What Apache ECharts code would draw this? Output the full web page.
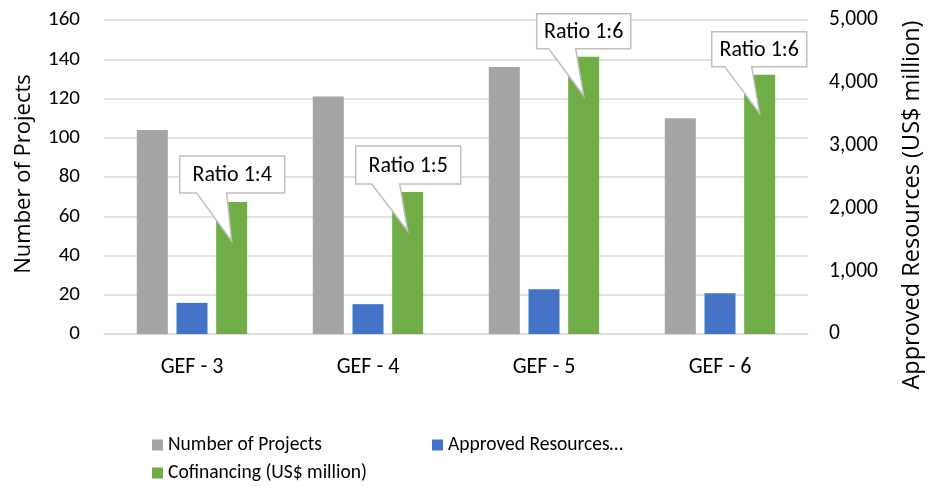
<!DOCTYPE html>
<html>
<head>
<meta charset="utf-8">
<script src="https://cdn.jsdelivr.net/npm/echarts@6/dist/echarts.min.js"></script>
<style>
html,body{margin:0;padding:0;background:#fff;}
#chart{width:932px;height:486px;}
</style>
</head>
<body>
<div id="chart"></div>
<script>
const categories = ['GEF - 3', 'GEF - 4', 'GEF - 5', 'GEF - 6'];
const numberOfProjects = [104, 121, 136, 110];
const approvedResources = [495, 475, 712, 650];
const cofinancing = [2100, 2260, 4415, 4130];
const ratioLabels = ['Ratio 1:4', 'Ratio 1:5', 'Ratio 1:6', 'Ratio 1:6'];
const leftTicks = { min: 0, max: 160, interval: 20 };
const rightTicks = { min: 0, max: 5000, interval: 1000 };

const FONT = 'Carlito, Lato, sans-serif';
const TITLE_FONT = '"Open Sans", Lato, sans-serif';
// callout geometry relative to green bar center / top (pixels)
const calloutGeom = [
  { L: -52, R: 53, T: -46, B: -9, tl: -35, tr: -5, tip: 39 },
  { L: -52, R: 53, T: -46, B: -8, tl: -36, tr: -8, tip: 39 },
  { L: -47, R: 47, T: -43, B: -8, tl: -35, tr: -8, tip: 39 },
  { L: -48, R: 47, T: -43, B: -8, tl: -35, tr: -8, tip: 39 }
];
const BAR_W = 31, BAR_GAP = '28%';
const greenOffset = BAR_W * 1.28;

const calloutData = cofinancing.map((v, i) => [i, v, ratioLabels[i]]);

const chart = echarts.init(document.getElementById('chart'));
const legendText = { fontFamily: FONT, fontSize: 19.5, color: '#000' };
chart.setOption({
  animation: false,
  textStyle: { fontFamily: FONT },
  grid: { left: 104, right: 117, top: 20, bottom: 152 },
  legend: [
    { data: ['Number of Projects'], left: 147, top: 430, itemWidth: 11, itemHeight: 11, itemGap: 0, textStyle: legendText, icon: 'rect' },
    { data: ['Approved Resources (US$ million)'], left: 427, top: 430, itemWidth: 11, itemHeight: 11, textStyle: legendText, icon: 'rect',
      formatter: () => 'Approved Resources…' },
    { data: ['Cofinancing (US$ million)'], left: 147, top: 458, itemWidth: 11, itemHeight: 11, textStyle: legendText, icon: 'rect' }
  ],
  xAxis: {
    type: 'category',
    data: categories,
    axisLine: { lineStyle: { color: '#d9d9d9', width: 1.5 } },
    axisTick: { show: false },
    axisLabel: { color: '#000', fontSize: 22, fontFamily: FONT, margin: 22 }
  },
  yAxis: [
    {
      type: 'value', min: leftTicks.min, max: leftTicks.max, interval: leftTicks.interval,
      name: 'Number of Projects', nameLocation: 'middle', nameGap: 69, nameRotate: 90,
      nameTextStyle: { fontSize: 22, color: '#000', fontFamily: TITLE_FONT, padding: [0, 0, 0, 6] },
      axisLine: { show: false }, axisTick: { show: false },
      axisLabel: { color: '#000', fontSize: 21, fontFamily: FONT, margin: 24 },
      splitLine: { lineStyle: { color: '#d9d9d9', width: 1.5 } }
    },
    {
      type: 'value', min: rightTicks.min, max: rightTicks.max, interval: rightTicks.interval,
      name: 'Approved Resources (US$ million)', nameLocation: 'middle', nameGap: 92, nameRotate: 90,
      nameTextStyle: { fontSize: 23.5, color: '#000', fontFamily: TITLE_FONT, padding: [0, 56, 0, 0] },
      axisLine: { show: false }, axisTick: { show: false },
      axisLabel: { color: '#000', fontSize: 21.5, fontFamily: FONT, margin: 21,
        formatter: v => v.toLocaleString('en-US') },
      splitLine: { show: false }
    }
  ],
  series: [
    { name: 'Number of Projects', type: 'bar', yAxisIndex: 0, data: numberOfProjects,
      barWidth: BAR_W, barGap: BAR_GAP, itemStyle: { color: '#a5a5a5' } },
    { name: 'Approved Resources (US$ million)', type: 'bar', yAxisIndex: 1, data: approvedResources,
      barWidth: BAR_W, barGap: BAR_GAP, itemStyle: { color: '#4472c4' } },
    { name: 'Cofinancing (US$ million)', type: 'bar', yAxisIndex: 1, data: cofinancing,
      barWidth: BAR_W, barGap: BAR_GAP, itemStyle: { color: '#70ad47' } },
    {
      name: 'callouts', type: 'custom', yAxisIndex: 1, z: 10, clip: false, silent: true,
      data: calloutData,
      encode: { x: 0, y: 1 },
      renderItem: function (params, api) {
        const i = params.dataIndex;
        const p = api.coord([api.value(0), api.value(1)]);
        const cx = p[0] + greenOffset, ty = p[1];
        const g = calloutGeom[i];
        const L = cx + g.L, R = cx + g.R, T = ty + g.T, B = ty + g.B;
        return {
          type: 'group',
          children: [
            { type: 'polygon',
              shape: { points: [[L, T], [R, T], [R, B], [cx + g.tr, B], [cx, ty + g.tip], [cx + g.tl, B], [L, B]] },
              style: { fill: '#fff', stroke: '#bfbfbf', lineWidth: 1.5 } },
            { type: 'text',
              style: { text: ratioLabels[i], x: (L + R) / 2, y: (T + B) / 2 + 1, align: 'center', verticalAlign: 'middle',
                fontSize: 22, fontFamily: FONT, fill: '#000' } }
          ]
        };
      }
    }
  ]
});
</script>
</body>
</html>
